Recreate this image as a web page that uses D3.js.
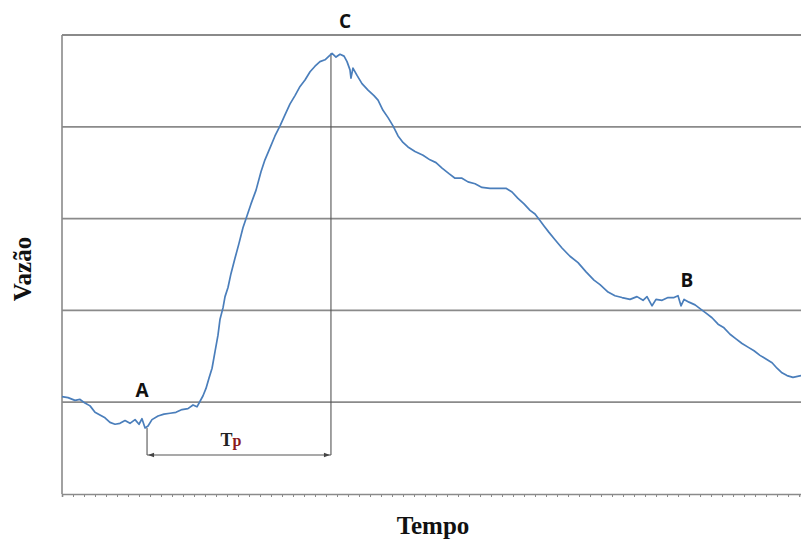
<!DOCTYPE html>
<html><head><meta charset="utf-8">
<script src="https://cdn.jsdelivr.net/npm/d3@7"></script>
<style>body{margin:0;background:#fff;}svg{display:block;}</style>
</head><body>
<svg id="c" width="801" height="542"></svg>
<script>
// time (tick units) of each sample
const tempo = [0,0.55,1.18,1.64,2.09,2.55,3.0,3.45,3.91,4.36,4.82,5.27,5.73,6.18,6.64,7.0,7.27,7.55,7.82,8.18,8.73,9.27,9.82,10.36,10.91,11.45,11.91,12.27,12.55,12.82,13.09,13.36,13.64,13.91,14.18,14.36,14.64,14.82,15.09,15.36,15.73,16.09,16.45,16.82,17.18,17.64,18.09,18.45,18.91,19.36,19.82,20.27,20.73,21.18,21.64,22.09,22.55,23.0,23.45,23.91,24.27,24.55,24.91,25.27,25.64,25.91,26.18,26.27,26.45,26.82,27.27,27.82,28.36,28.73,29.18,29.64,30.09,30.55,31.0,31.45,32.09,32.82,33.45,34.0,34.55,35.18,35.73,36.36,36.91,37.55,38.18,38.91,39.64,40.36,40.91,41.45,42.0,42.55,43.0,43.45,43.82,44.27,44.82,45.45,46.18,46.91,47.64,48.36,48.91,49.64,50.27,50.91,51.64,52.27,52.82,53.18,53.64,54.0,54.55,55.09,55.64,56.0,56.27,56.55,57.0,57.55,58.0,58.55,59.09,59.64,60.18,60.73,61.27,61.82,62.36,62.91,63.45,64.0,64.55,65.0,65.45,65.91,66.45,67.18];
// discharge (grid units)
const vazao = [1.06,1.05,1.02,1.03,0.99,0.96,0.89,0.86,0.83,0.78,0.76,0.77,0.80,0.77,0.81,0.76,0.82,0.72,0.74,0.81,0.85,0.87,0.88,0.89,0.92,0.93,0.97,0.95,1.01,1.07,1.15,1.26,1.37,1.55,1.73,1.90,2.03,2.15,2.25,2.40,2.57,2.73,2.90,3.03,3.16,3.31,3.51,3.64,3.77,3.90,4.01,4.13,4.25,4.34,4.44,4.51,4.60,4.66,4.71,4.73,4.77,4.80,4.76,4.79,4.77,4.71,4.62,4.53,4.64,4.56,4.47,4.40,4.34,4.29,4.18,4.10,4.01,3.90,3.83,3.78,3.73,3.69,3.64,3.61,3.55,3.49,3.44,3.44,3.40,3.38,3.34,3.33,3.33,3.33,3.29,3.22,3.16,3.09,3.05,2.98,2.92,2.85,2.77,2.68,2.59,2.52,2.42,2.33,2.28,2.20,2.16,2.14,2.12,2.15,2.11,2.15,2.05,2.12,2.11,2.14,2.14,2.16,2.05,2.12,2.09,2.06,2.02,1.97,1.92,1.85,1.81,1.74,1.69,1.64,1.60,1.56,1.51,1.47,1.43,1.37,1.32,1.29,1.27,1.29];
const gridValues = [0,1,2,3,4,5];
const xTickCount = 68;
// annotation points
const pontoA = {t: 7.73, v: 0.72, label: "A"};
const pontoC = {t: 24.45, v: 4.80, label: "C"};
const pontoB = {t: 56.8, label: "B"};
const tpLevel = 0.425;

const svg = d3.select("#c");
const x = d3.scaleLinear().domain([0, 67.18]).range([62, 801]);
const y = d3.scaleLinear().domain([0, 5]).range([494, 35]);

// horizontal grid lines
svg.append("g").selectAll("line").data(gridValues.filter(d => d > 0)).join("line")
  .attr("x1", x(0)).attr("x2", 801)
  .attr("y1", d => y(d)).attr("y2", d => y(d))
  .attr("stroke", "#8a8a8a").attr("stroke-width", 1.8);

// left axis line
svg.append("line").attr("x1", x(0)).attr("x2", x(0)).attr("y1", y(5)).attr("y2", y(0))
  .attr("stroke", "#8a8a8a").attr("stroke-width", 1.6);

// bottom axis with ticks
const xAxis = d3.axisBottom(x).tickValues(d3.range(0, xTickCount)).tickSize(3).tickFormat("");
const gx = svg.append("g").attr("transform", `translate(0,${y(0)})`).call(xAxis);
gx.select(".domain").attr("stroke", "#8a8a8a").attr("stroke-width", 1.6);
gx.selectAll(".tick line").attr("stroke", "#8a8a8a").attr("stroke-width", 1);

// annotation lines
const ann = svg.append("g").attr("stroke", "#555").attr("stroke-width", 1.1).attr("fill", "none");
ann.append("line").attr("x1", x(pontoC.t)).attr("x2", x(pontoC.t)).attr("y1", y(pontoC.v)).attr("y2", y(tpLevel));
ann.append("line").attr("x1", x(pontoA.t)).attr("x2", x(pontoA.t)).attr("y1", y(pontoA.v)).attr("y2", y(tpLevel));
ann.append("line").attr("x1", x(pontoA.t)).attr("x2", x(pontoC.t)).attr("y1", y(tpLevel)).attr("y2", y(tpLevel));
const ay = y(tpLevel);
svg.append("path").attr("d", `M${x(pontoA.t)+1},${ay} l6,-2.2 l0,4.4 z`).attr("fill", "#444");
svg.append("path").attr("d", `M${x(pontoC.t)-1},${ay} l-6,-2.2 l0,4.4 z`).attr("fill", "#444");

// curve
const line = d3.line().x((d, i) => x(tempo[i])).y(d => y(d));
svg.append("path").datum(vazao).attr("d", line)
  .attr("fill", "none").attr("stroke", "#4a7ebb").attr("stroke-width", 1.7).attr("stroke-linejoin", "round");

// labels
const lab = svg.append("g").attr("font-family", "'Open Sans', sans-serif").attr("font-weight", "bold")
  .attr("font-size", 19).attr("fill", "#111").attr("text-anchor", "middle");
lab.append("text").attr("x", 345).attr("y", 28).text(pontoC.label);
lab.append("text").attr("x", 142).attr("y", 397).text(pontoA.label);
lab.append("text").attr("x", x(pontoB.t)).attr("y", 287).text(pontoB.label);

const tp = svg.append("text").attr("x", 231).attr("y", 446).attr("text-anchor", "middle")
  .attr("font-family", "'Liberation Serif', 'Times New Roman', serif").attr("font-weight", "bold");
tp.append("tspan").attr("font-size", 18).attr("fill", "#222").text("T");
tp.append("tspan").attr("font-size", 16).attr("fill", "#8b1a1a").text("p");

svg.append("text").attr("x", 433).attr("y", 534).attr("text-anchor", "middle")
  .attr("font-family", "'Liberation Serif', 'Times New Roman', serif").attr("font-weight", "bold")
  .attr("font-size", 25).attr("fill", "#111").text("Tempo");
svg.append("text").attr("transform", "translate(31,269) rotate(-90)").attr("text-anchor", "middle")
  .attr("font-family", "'Liberation Serif', 'Times New Roman', serif").attr("font-weight", "bold")
  .attr("font-size", 25).attr("fill", "#111").text("Vazão");
</script>
</body></html>
